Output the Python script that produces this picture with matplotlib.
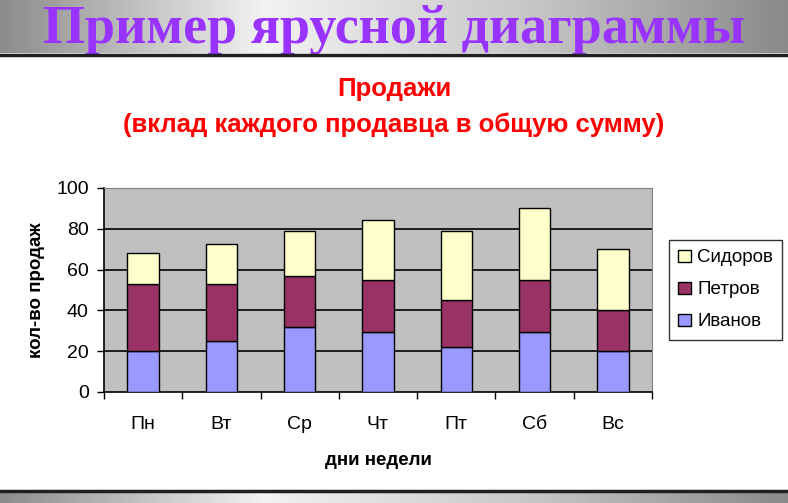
import numpy as np
import matplotlib.pyplot as plt
from matplotlib.colors import LinearSegmentedColormap
from matplotlib.patches import Patch

days = ['Пн', 'Вт', 'Ср', 'Чт', 'Пт', 'Сб', 'Вс']
ivanov = [20, 25, 32, 29.5, 22, 29.5, 20]
petrov = [33, 28, 25, 25.5, 23, 25.5, 20]
sidorov = [15, 19.5, 22, 29.5, 34, 35, 30]
yticks = [0, 20, 40, 60, 80, 100]

plt.rcParams['font.family'] = ['Liberation Sans', 'DejaVu Sans']

W, H = 788, 503
fig = plt.figure(figsize=(W / 100, H / 100), dpi=100)
fig.patch.set_facecolor('white')

# gray gradient banners (top and bottom)
grad = LinearSegmentedColormap.from_list('g', ['#8c8c8c', '#f2f2f2', '#c8c8c8', '#8a8a8a'])
row = np.linspace(0, 1, 256).reshape(1, -1)

top = fig.add_axes([0, 1 - 53 / H, 1, 53 / H])
top.imshow(row, aspect='auto', cmap=grad, extent=[0, 1, 0, 1])
top.axis('off')
fig.add_artist(plt.Line2D([0, 1], [1 - 54.5 / H] * 2, color='#202020', lw=2.5))
top.text(0.5, 0.44, 'Пример ярусной диаграммы', color='#9933ff', fontsize=39,
         fontweight='bold', family='Liberation Serif', ha='center', va='center')

bot = fig.add_axes([0, 0, 1, 11 / H])
bot.imshow(row, aspect='auto', cmap=grad, extent=[0, 1, 0, 1])
bot.axis('off')
fig.add_artist(plt.Line2D([0, 1], [12.5 / H] * 2, color='#202020', lw=2.5))

# chart titles
fig.text(0.5, 1 - 89 / H, 'Продажи', color='red', fontsize=18.5,
         fontweight='bold', ha='center', va='center')
fig.text(0.5, 1 - 125 / H, '(вклад каждого продавца в общую сумму)', color='red',
         fontsize=18.5, fontweight='bold', ha='center', va='center')

ax = fig.add_axes([104 / W, 1 - 392 / H, 548 / W, 204 / H])
ax.set_facecolor('#c0c0c0')
x = np.arange(len(days))
b1 = np.array(ivanov)
b2 = b1 + np.array(petrov)
ax.bar(x, ivanov, width=0.4, color='#9999ff', edgecolor='black', lw=1, zorder=3)
ax.bar(x, petrov, width=0.4, bottom=b1, color='#993366', edgecolor='black', lw=1, zorder=3)
ax.bar(x, sidorov, width=0.4, bottom=b2, color='#ffffcc', edgecolor='black', lw=1, zorder=3)

ax.set_xlim(-0.5, len(days) - 0.5)
ax.set_ylim(0, 100)
ax.set_yticks(yticks)
ax.tick_params(axis='y', labelsize=14, length=5, direction='out', width=1, pad=6)
for v in yticks[1:-1]:
    ax.axhline(v, color='black', lw=1.2, zorder=1)

ax.set_xticks(x)
ax.set_xticklabels(days)
ax.tick_params(axis='x', which='major', length=0, labelsize=14, pad=17)
ax.set_xticks(np.arange(-0.5, len(days)), minor=True)
ax.tick_params(axis='x', which='minor', length=5, width=1, direction='out')

for s in ['top', 'right']:
    ax.spines[s].set_color('#808080')
for s in ['left', 'bottom']:
    ax.spines[s].set_color('black')
    ax.spines[s].set_linewidth(1.2)

ax.set_ylabel('кол-во продаж', fontsize=13.5, fontweight='bold', labelpad=8)
ax.set_xlabel('дни недели', fontsize=13.5, fontweight='bold', labelpad=14)

handles = [Patch(facecolor='#ffffcc', edgecolor='black', label='Сидоров'),
           Patch(facecolor='#993366', edgecolor='black', label='Петров'),
           Patch(facecolor='#9999ff', edgecolor='black', label='Иванов')]
leg = fig.legend(handles=handles, loc='center left', bbox_to_anchor=(669 / W, 1 - 290 / H),
                 fontsize=13.5, frameon=True, fancybox=False, edgecolor='black',
                 handlelength=0.65, handleheight=0.65, handletextpad=0.35,
                 labelspacing=0.8, borderpad=0.5, borderaxespad=0)
leg.get_frame().set_linewidth(1)

fig.savefig('out.png', dpi=100)
